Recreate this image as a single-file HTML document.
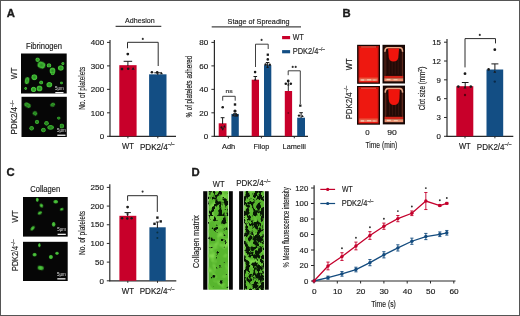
<!DOCTYPE html>
<html><head><meta charset="utf-8"><style>
html,body{margin:0;padding:0;background:#fff;}
body{width:520px;height:316px;overflow:hidden;}
svg{display:block;font-family:"Liberation Sans",sans-serif;will-change:transform;filter:blur(0.25px);}
text{stroke:#1a1a1a;stroke-width:0.15px;}
text[fill="#e0e0e0"]{stroke:#d8d8d8;stroke-width:0;}
</style></head><body>
<svg width="520" height="316" viewBox="0 0 520 316">
<rect x="0" y="0" width="520" height="316" fill="#fff"/>
<text x="6.8" y="16.6" font-size="11.3" font-weight="bold" fill="#1a1a1a" stroke="#1a1a1a" style="stroke-width:0.35px">A</text>
<text x="342.4" y="16.6" font-size="11.3" font-weight="bold" fill="#1a1a1a" stroke="#1a1a1a" style="stroke-width:0.35px">B</text>
<text x="6.5" y="176.2" font-size="11.3" font-weight="bold" fill="#1a1a1a" stroke="#1a1a1a" style="stroke-width:0.35px">C</text>
<text x="191.6" y="176.3" font-size="11.3" font-weight="bold" fill="#1a1a1a" stroke="#1a1a1a" style="stroke-width:0.35px">D</text>
<defs><radialGradient id="cg" cx="0.5" cy="0.5" r="0.5"><stop offset="0" stop-color="#2a8a22"/><stop offset="0.6" stop-color="#3aae30"/><stop offset="0.85" stop-color="#48c43a"/><stop offset="1" stop-color="#2a7a22"/></radialGradient><radialGradient id="cg2" cx="0.5" cy="0.5" r="0.5"><stop offset="0" stop-color="#58cc46"/><stop offset="0.7" stop-color="#3aa82e"/><stop offset="1" stop-color="#1a5014"/></radialGradient><radialGradient id="cg3" cx="0.5" cy="0.5" r="0.5"><stop offset="0" stop-color="#24781c"/><stop offset="0.6" stop-color="#2e9626"/><stop offset="0.85" stop-color="#3aae30"/><stop offset="1" stop-color="#1e6418"/></radialGradient><filter id="bl" x="-20%" y="-20%" width="140%" height="140%"><feGaussianBlur stdDeviation="0.35"/></filter></defs>
<text x="26" y="48.5" font-size="8.18" fill="#1a1a1a" stroke="#1a1a1a" textLength="36" lengthAdjust="spacingAndGlyphs">Fibrinogen</text>
<rect x="21" y="53.5" width="45.7" height="40" fill="#060606"/>
<rect x="21.5" y="96.8" width="45.3" height="40.2" fill="#060606"/>
<ellipse cx="37.6" cy="59.7" rx="2.3" ry="2.3" transform="rotate(0 37.6 59.7)" fill="url(#cg)" filter="url(#bl)"/>
<ellipse cx="41.4" cy="65.1" rx="4.1" ry="3.5" transform="rotate(20 41.4 65.1)" fill="url(#cg)" filter="url(#bl)"/>
<ellipse cx="49" cy="65.4" rx="2.3" ry="2.2" transform="rotate(0 49 65.4)" fill="url(#cg)" filter="url(#bl)"/>
<ellipse cx="52.5" cy="70.8" rx="3" ry="3.4" transform="rotate(0 52.5 70.8)" fill="url(#cg)" filter="url(#bl)"/>
<ellipse cx="60.8" cy="68" rx="3" ry="2.8" transform="rotate(0 60.8 68)" fill="url(#cg)" filter="url(#bl)"/>
<ellipse cx="62.9" cy="63.6" rx="1.6" ry="1.6" transform="rotate(0 62.9 63.6)" fill="url(#cg)" filter="url(#bl)"/>
<ellipse cx="52.7" cy="73.5" rx="2" ry="1.8" transform="rotate(0 52.7 73.5)" fill="url(#cg)" filter="url(#bl)"/>
<ellipse cx="34.3" cy="77.2" rx="3" ry="3" transform="rotate(0 34.3 77.2)" fill="url(#cg)" filter="url(#bl)"/>
<ellipse cx="27.1" cy="80.6" rx="2.3" ry="3.6" transform="rotate(10 27.1 80.6)" fill="url(#cg)" filter="url(#bl)"/>
<ellipse cx="41.1" cy="82.6" rx="2" ry="2" transform="rotate(0 41.1 82.6)" fill="url(#cg)" filter="url(#bl)"/>
<ellipse cx="49.3" cy="84.7" rx="3" ry="2.8" transform="rotate(0 49.3 84.7)" fill="url(#cg)" filter="url(#bl)"/>
<ellipse cx="33.6" cy="89.4" rx="2.7" ry="2.6" transform="rotate(0 33.6 89.4)" fill="url(#cg)" filter="url(#bl)"/>
<ellipse cx="39.5" cy="88.5" rx="3" ry="3" transform="rotate(0 39.5 88.5)" fill="url(#cg)" filter="url(#bl)"/>
<ellipse cx="25.7" cy="88.5" rx="1.4" ry="1.4" transform="rotate(0 25.7 88.5)" fill="url(#cg)" filter="url(#bl)"/>
<ellipse cx="61.5" cy="83" rx="1.4" ry="1.4" transform="rotate(0 61.5 83)" fill="url(#cg)" filter="url(#bl)"/>
<ellipse cx="27.5" cy="105.2" rx="3.5" ry="2.4" transform="rotate(30 27.5 105.2)" fill="url(#cg3)" filter="url(#bl)"/>
<ellipse cx="52.7" cy="104.8" rx="2.5" ry="2" transform="rotate(-30 52.7 104.8)" fill="url(#cg3)" filter="url(#bl)"/>
<ellipse cx="35" cy="113.4" rx="2.5" ry="2.2" transform="rotate(30 35 113.4)" fill="url(#cg3)" filter="url(#bl)"/>
<ellipse cx="58.8" cy="118.1" rx="1.8" ry="1.6" transform="rotate(0 58.8 118.1)" fill="url(#cg3)" filter="url(#bl)"/>
<ellipse cx="37" cy="121.9" rx="2.2" ry="2.2" transform="rotate(0 37 121.9)" fill="url(#cg3)" filter="url(#bl)"/>
<ellipse cx="46.5" cy="123.3" rx="2.4" ry="2.4" transform="rotate(0 46.5 123.3)" fill="url(#cg3)" filter="url(#bl)"/>
<ellipse cx="50.6" cy="127.4" rx="3.4" ry="2.4" transform="rotate(0 50.6 127.4)" fill="url(#cg3)" filter="url(#bl)"/>
<ellipse cx="61.9" cy="126" rx="2.3" ry="2.6" transform="rotate(0 61.9 126)" fill="url(#cg3)" filter="url(#bl)"/>
<ellipse cx="31.6" cy="128.3" rx="2.4" ry="2.4" transform="rotate(0 31.6 128.3)" fill="url(#cg3)" filter="url(#bl)"/>
<ellipse cx="43.4" cy="130.1" rx="2.5" ry="2.3" transform="rotate(0 43.4 130.1)" fill="url(#cg3)" filter="url(#bl)"/>
<text x="55" y="89.6" font-size="5.8" fill="#e0e0e0" textLength="8.8" lengthAdjust="spacingAndGlyphs">5μm</text>
<rect x="55.3" y="92.0" width="8.2" height="1.3" fill="#f0f0f0"/>
<text x="57" y="132.2" font-size="5.8" fill="#e0e0e0" textLength="8.8" lengthAdjust="spacingAndGlyphs">5μm</text>
<rect x="57.3" y="134.6" width="8.2" height="1.3" fill="#f0f0f0"/>
<text x="16.6" y="79.2" font-size="8.4" fill="#1a1a1a" stroke="#1a1a1a" textLength="11.6" lengthAdjust="spacingAndGlyphs" transform="rotate(-90 16.6 79.2)">WT</text>
<text x="17.0" y="134.4" font-size="8.4" fill="#1a1a1a" transform="rotate(-90 17.0 134.4)"><tspan textLength="27.4" lengthAdjust="spacingAndGlyphs">PDK2/4</tspan><tspan font-size="4.6" dy="-3.3" fill="#444" textLength="6.8" lengthAdjust="spacingAndGlyphs">–/–</tspan></text>
<text x="125.1" y="23.0" font-size="7.73" fill="#1a1a1a" stroke="#1a1a1a" textLength="29.6" lengthAdjust="spacingAndGlyphs">Adhesion</text>
<line x1="115.6" y1="26.3" x2="161.3" y2="26.3" stroke="#444" stroke-width="1.3"/>
<line x1="110" y1="40" x2="110" y2="136.8" stroke="#2a2a2a" stroke-width="1.2"/>
<line x1="107" y1="136.3" x2="110" y2="136.3" stroke="#2a2a2a" stroke-width="1.0"/>
<text x="104.2" y="139.0" font-size="7.78" text-anchor="end" fill="#1a1a1a" stroke="#1a1a1a" textLength="4.45" lengthAdjust="spacingAndGlyphs">0</text>
<line x1="107" y1="112.82500000000002" x2="110" y2="112.82500000000002" stroke="#2a2a2a" stroke-width="1.0"/>
<text x="104.2" y="115.52500000000002" font-size="7.78" text-anchor="end" fill="#1a1a1a" stroke="#1a1a1a" textLength="13.350000000000001" lengthAdjust="spacingAndGlyphs">100</text>
<line x1="107" y1="89.35000000000001" x2="110" y2="89.35000000000001" stroke="#2a2a2a" stroke-width="1.0"/>
<text x="104.2" y="92.05000000000001" font-size="7.78" text-anchor="end" fill="#1a1a1a" stroke="#1a1a1a" textLength="13.350000000000001" lengthAdjust="spacingAndGlyphs">200</text>
<line x1="107" y1="65.875" x2="110" y2="65.875" stroke="#2a2a2a" stroke-width="1.0"/>
<text x="104.2" y="68.575" font-size="7.78" text-anchor="end" fill="#1a1a1a" stroke="#1a1a1a" textLength="13.350000000000001" lengthAdjust="spacingAndGlyphs">300</text>
<line x1="107" y1="42.400000000000006" x2="110" y2="42.400000000000006" stroke="#2a2a2a" stroke-width="1.0"/>
<text x="104.2" y="45.10000000000001" font-size="7.78" text-anchor="end" fill="#1a1a1a" stroke="#1a1a1a" textLength="13.350000000000001" lengthAdjust="spacingAndGlyphs">400</text>
<line x1="109.4" y1="136.3" x2="176" y2="136.3" stroke="#2a2a2a" stroke-width="1.2"/>
<rect x="119.3" y="65.17075000000001" width="17.3" height="71.12925" fill="#c8002a"/>
<rect x="149.1" y="74.32600000000001" width="17.4" height="61.974000000000004" fill="#134e84"/>
<line x1="127.9" y1="136.3" x2="127.9" y2="138.3" stroke="#2a2a2a" stroke-width="1.0"/>
<line x1="157.8" y1="136.3" x2="157.8" y2="138.3" stroke="#2a2a2a" stroke-width="1.0"/>
<line x1="127.9" y1="61.3" x2="127.9" y2="66" stroke="#1a1a1a" stroke-width="1"/>
<line x1="123.65" y1="61.3" x2="132.15" y2="61.3" stroke="#1a1a1a" stroke-width="1"/>
<line x1="157.8" y1="72.8" x2="157.8" y2="75" stroke="#1a1a1a" stroke-width="1"/>
<line x1="154.3" y1="72.8" x2="161.3" y2="72.8" stroke="#1a1a1a" stroke-width="1"/>
<circle cx="127.8" cy="54.1" r="1.4" fill="#1a1a1a"/>
<rect x="120.80" y="67.80" width="2.4" height="2.4" fill="#1a1a1a"/>
<circle cx="128.2" cy="68.7" r="1.3" fill="#1a1a1a"/>
<path d="M133.10 66.96L134.64 69.76L131.56 69.76Z" fill="#1a1a1a"/>
<circle cx="151.9" cy="72.2" r="1.3" fill="#1a1a1a"/>
<circle cx="157.2" cy="72.4" r="1.3" fill="#1a1a1a"/>
<path d="M161.50 71.77L162.93 74.37L160.07 74.37Z" fill="#1a1a1a"/>
<path d="M127.5 48.3 V42.3 H158.2 V66" fill="none" stroke="#2a2a2a" stroke-width="1.0"/>
<circle cx="142.80" cy="38.90" r="1.05" fill="#333"/>
<text x="127.9" y="149.4" font-size="8.18" text-anchor="middle" fill="#1a1a1a" stroke="#1a1a1a" textLength="12" lengthAdjust="spacingAndGlyphs">WT</text>
<text x="139.9" y="149.5" font-size="8.18" fill="#1a1a1a"><tspan textLength="27.9" lengthAdjust="spacingAndGlyphs">PDK2/4</tspan><tspan font-size="4.6" dy="-3.3" fill="#444" textLength="6.8" lengthAdjust="spacingAndGlyphs">–/–</tspan></text>
<text x="84.6" y="109.7" font-size="8.74" fill="#1a1a1a" stroke="#1a1a1a" textLength="43" lengthAdjust="spacingAndGlyphs" transform="rotate(-90 84.6 109.7)">No. of platelets</text>
<text x="227.6" y="24.0" font-size="7.73" fill="#1a1a1a" stroke="#1a1a1a" textLength="62" lengthAdjust="spacingAndGlyphs">Stage of Spreading</text>
<line x1="211.7" y1="26.8" x2="301" y2="26.8" stroke="#444" stroke-width="1.3"/>
<line x1="214.4" y1="40" x2="214.4" y2="136.8" stroke="#2a2a2a" stroke-width="1.2"/>
<line x1="211.4" y1="136.3" x2="214.4" y2="136.3" stroke="#2a2a2a" stroke-width="1.0"/>
<text x="208.2" y="139.0" font-size="7.78" text-anchor="end" fill="#1a1a1a" stroke="#1a1a1a" textLength="4.5" lengthAdjust="spacingAndGlyphs">0</text>
<line x1="211.4" y1="112.82500000000002" x2="214.4" y2="112.82500000000002" stroke="#2a2a2a" stroke-width="1.0"/>
<text x="208.2" y="115.52500000000002" font-size="7.78" text-anchor="end" fill="#1a1a1a" stroke="#1a1a1a" textLength="9.0" lengthAdjust="spacingAndGlyphs">20</text>
<line x1="211.4" y1="89.35000000000001" x2="214.4" y2="89.35000000000001" stroke="#2a2a2a" stroke-width="1.0"/>
<text x="208.2" y="92.05000000000001" font-size="7.78" text-anchor="end" fill="#1a1a1a" stroke="#1a1a1a" textLength="9.0" lengthAdjust="spacingAndGlyphs">40</text>
<line x1="211.4" y1="65.875" x2="214.4" y2="65.875" stroke="#2a2a2a" stroke-width="1.0"/>
<text x="208.2" y="68.575" font-size="7.78" text-anchor="end" fill="#1a1a1a" stroke="#1a1a1a" textLength="9.0" lengthAdjust="spacingAndGlyphs">60</text>
<line x1="211.4" y1="42.400000000000006" x2="214.4" y2="42.400000000000006" stroke="#2a2a2a" stroke-width="1.0"/>
<text x="208.2" y="45.10000000000001" font-size="7.78" text-anchor="end" fill="#1a1a1a" stroke="#1a1a1a" textLength="9.0" lengthAdjust="spacingAndGlyphs">80</text>
<line x1="213.8" y1="136.3" x2="308" y2="136.3" stroke="#2a2a2a" stroke-width="1.2"/>
<rect x="218.7" y="123.3" width="7.8" height="13.000000000000014" fill="#c8002a"/>
<rect x="231.4" y="113.9" width="7.4" height="22.400000000000006" fill="#134e84"/>
<rect x="251.7" y="79.7" width="7.3" height="56.60000000000001" fill="#c8002a"/>
<rect x="264" y="65.1" width="7.3" height="71.20000000000002" fill="#134e84"/>
<rect x="284.8" y="91" width="7.3" height="45.30000000000001" fill="#c8002a"/>
<rect x="297.2" y="117.7" width="7.8" height="18.60000000000001" fill="#134e84"/>
<line x1="228.4" y1="136.3" x2="228.4" y2="138.3" stroke="#2a2a2a" stroke-width="1.0"/>
<line x1="261.4" y1="136.3" x2="261.4" y2="138.3" stroke="#2a2a2a" stroke-width="1.0"/>
<line x1="294.3" y1="136.3" x2="294.3" y2="138.3" stroke="#2a2a2a" stroke-width="1.0"/>
<text x="228.6" y="149.4" font-size="7.95" text-anchor="middle" fill="#1a1a1a" stroke="#1a1a1a" textLength="13.2" lengthAdjust="spacingAndGlyphs">Adh</text>
<text x="261.4" y="149.4" font-size="7.95" text-anchor="middle" fill="#1a1a1a" stroke="#1a1a1a" textLength="15.8" lengthAdjust="spacingAndGlyphs">Filop</text>
<text x="294.2" y="149.4" font-size="7.95" text-anchor="middle" fill="#1a1a1a" stroke="#1a1a1a" textLength="23.2" lengthAdjust="spacingAndGlyphs">Lamelli</text>
<line x1="222.6" y1="117.7" x2="222.6" y2="124" stroke="#1a1a1a" stroke-width="1"/>
<line x1="220.7" y1="117.7" x2="224.5" y2="117.7" stroke="#1a1a1a" stroke-width="1"/>
<circle cx="222.7" cy="107.3" r="1.3" fill="#1a1a1a"/>
<circle cx="221.5" cy="127.4" r="1.1" fill="#1a1a1a"/>
<path d="M224.40 125.08L225.72 127.48L223.08 127.48Z" fill="#1a1a1a"/>
<path d="M222.80 130.72L224.12 128.32L221.48 128.32Z" fill="#1a1a1a"/>
<line x1="235.1" y1="113.7" x2="235.1" y2="117" stroke="#1a1a1a" stroke-width="1"/>
<line x1="233.2" y1="113.7" x2="237.0" y2="113.7" stroke="#1a1a1a" stroke-width="1"/>
<rect x="233.80" y="103.30" width="2.4" height="2.4" fill="#1a1a1a"/>
<circle cx="235" cy="111.1" r="1.6" fill="#1a1a1a"/>
<path d="M233.20 113.57L234.63 116.17L231.77 116.17Z" fill="#1a1a1a"/>
<circle cx="237.0" cy="115.4" r="1.3" fill="#1a1a1a"/>
<path d="M222.7 100.7 V96.3 H235.2 V100.7" fill="none" stroke="#2a2a2a" stroke-width="0.9"/>
<text x="229.1" y="92.6" font-size="6.05" text-anchor="middle" fill="#333" stroke="#333" textLength="7.2" lengthAdjust="spacingAndGlyphs">ns</text>
<line x1="255.3" y1="76.5" x2="255.3" y2="80" stroke="#1a1a1a" stroke-width="1"/>
<line x1="253.5" y1="76.5" x2="257.1" y2="76.5" stroke="#1a1a1a" stroke-width="1"/>
<circle cx="255.1" cy="72.1" r="1.3" fill="#1a1a1a"/>
<path d="M255.30 78.18L256.62 80.58L253.98 80.58Z" fill="#1a1a1a"/>
<line x1="267.6" y1="62.5" x2="267.6" y2="66" stroke="#1a1a1a" stroke-width="1"/>
<line x1="265.8" y1="62.5" x2="269.40000000000003" y2="62.5" stroke="#1a1a1a" stroke-width="1"/>
<rect x="266.65" y="53.55" width="2.3" height="2.3" fill="#1a1a1a"/>
<circle cx="267.8" cy="59.4" r="1.3" fill="#1a1a1a"/>
<circle cx="265.6" cy="64.5" r="1.2" fill="#1a1a1a"/>
<circle cx="269.8" cy="64.8" r="1.2" fill="#1a1a1a"/>
<path d="M267.60 65.48L268.92 67.88L266.28 67.88Z" fill="#1a1a1a"/>
<path d="M255.5 67 V44.2 H268.2 V49" fill="none" stroke="#2a2a2a" stroke-width="0.9"/>
<circle cx="261.60" cy="39.90" r="1.05" fill="#333"/>
<line x1="288.3" y1="80.9" x2="288.3" y2="91" stroke="#2a2a2a" stroke-width="1.0"/>
<circle cx="288.2" cy="80.9" r="1.4" fill="#1a1a1a"/>
<circle cx="285.8" cy="83.7" r="1.3" fill="#1a1a1a"/>
<circle cx="290.8" cy="83.7" r="1.3" fill="#1a1a1a"/>
<path d="M288.30 83.29L289.51 85.49L287.09 85.49Z" fill="#1a1a1a"/>
<circle cx="288.3" cy="113" r="0.9" fill="#7a0015"/>
<line x1="301.1" y1="112.7" x2="301.1" y2="118" stroke="#1a1a1a" stroke-width="1"/>
<line x1="299.3" y1="112.7" x2="302.90000000000003" y2="112.7" stroke="#1a1a1a" stroke-width="1"/>
<rect x="299.15" y="104.45" width="2.3" height="2.3" fill="#1a1a1a"/>
<circle cx="299" cy="115.6" r="1.2" fill="#1a1a1a"/>
<path d="M302.50 114.73L303.76 117.03L301.24 117.03Z" fill="#1a1a1a"/>
<path d="M288.2 75.2 V70.8 H300.3 V104" fill="none" stroke="#2a2a2a" stroke-width="0.9"/>
<circle cx="292.70" cy="66.90" r="1.05" fill="#333"/>
<circle cx="295.70" cy="66.90" r="1.05" fill="#333"/>
<text x="192.2" y="117.5" font-size="8.74" fill="#1a1a1a" stroke="#1a1a1a" textLength="61.7" lengthAdjust="spacingAndGlyphs" transform="rotate(-90 192.2 117.5)">% of platelets adhered</text>
<rect x="282.1" y="36.0" width="8" height="3.2" fill="#c8002a"/>
<text x="292.8" y="40.0" font-size="8.51" fill="#1a1a1a" stroke="#1a1a1a" textLength="11" lengthAdjust="spacingAndGlyphs">WT</text>
<rect x="282.1" y="50.1" width="8" height="3.2" fill="#134e84"/>
<text x="292.8" y="54.2" font-size="8.51" fill="#1a1a1a"><tspan textLength="25.6" lengthAdjust="spacingAndGlyphs">PDK2/4</tspan><tspan font-size="4.6" dy="-3.3" fill="#444" textLength="6.5" lengthAdjust="spacingAndGlyphs">–/–</tspan></text>
<rect x="357.1" y="44.8" width="22.9" height="39" fill="#160604"/>
<rect x="358.70000000000005" y="46.099999999999994" width="19.7" height="36.4" fill="#ee1810"/>
<rect x="358.70000000000005" y="46.099999999999994" width="19.7" height="1.6" fill="#b81a10"/>
<rect x="361.1" y="46.599999999999994" width="14.899999999999999" height="0.8" fill="#e07060"/>
<rect x="358.70000000000005" y="46.099999999999994" width="0.9" height="36.4" fill="#c01410"/>
<rect x="377.5" y="46.099999999999994" width="0.9" height="36.4" fill="#c01410"/>
<rect x="359.3" y="77.6" width="18.5" height="1.3" fill="#e85a40"/>
<rect x="359.5" y="78.89999999999999" width="18.099999999999998" height="2.2" fill="#e88068"/>
<rect x="361.1" y="79.39999999999999" width="3" height="1.2" fill="#f8c8b0"/>
<rect x="367.1" y="79.2" width="4" height="1.2" fill="#f8c0a8"/>
<rect x="373.1" y="79.5" width="2.5" height="1.1" fill="#f0b098"/>
<rect x="382.5" y="44.8" width="22.5" height="38.7" fill="#140604"/>
<rect x="384.1" y="46.0" width="19.3" height="36.300000000000004" fill="#220a06"/>
<rect x="385.7" y="52.8" width="0.8" height="21.700000000000003" fill="#3c1610"/>
<rect x="388.7" y="52.8" width="0.8" height="21.700000000000003" fill="#3c1610"/>
<rect x="391.7" y="52.8" width="0.8" height="21.700000000000003" fill="#3c1610"/>
<rect x="394.7" y="52.8" width="0.8" height="21.700000000000003" fill="#3c1610"/>
<rect x="397.7" y="52.8" width="0.8" height="21.700000000000003" fill="#3c1610"/>
<rect x="400.7" y="52.8" width="0.8" height="21.700000000000003" fill="#3c1610"/>
<rect x="384.6" y="47.8" width="0.8" height="30.700000000000003" fill="#6a3024"/>
<rect x="402.1" y="47.8" width="0.8" height="30.700000000000003" fill="#6a3024"/>
<path d="M384.9 51.8 Q385.1 47.8 387.5 47.8 H400.0 Q402.4 47.8 402.6 51.8" fill="none" stroke="#e8a888" stroke-width="1.6"/>
<path d="M388.1 48.599999999999994 H399.1 L398.3 57.3 Q397.7 61.599999999999994 393.5 61.599999999999994 Q389.3 61.599999999999994 388.8 57.3 Z" fill="#f0140c"/>
<rect x="384.3" y="75.9" width="18.9" height="2.4" fill="#d02418"/>
<rect x="384.3" y="78.3" width="18.9" height="3.0" fill="#e89070"/>
<rect x="386.5" y="78.9" width="4" height="1.3" fill="#f8d0b8"/>
<rect x="393.5" y="79.1" width="4" height="1.2" fill="#f8c8a8"/>
<rect x="357" y="86" width="23" height="38.7" fill="#160604"/>
<rect x="358.6" y="87.3" width="19.8" height="36.1" fill="#ee1810"/>
<rect x="358.6" y="87.3" width="19.8" height="1.6" fill="#b81a10"/>
<rect x="361" y="87.8" width="15" height="0.8" fill="#e07060"/>
<rect x="358.6" y="87.3" width="0.9" height="36.1" fill="#c01410"/>
<rect x="377.5" y="87.3" width="0.9" height="36.1" fill="#c01410"/>
<rect x="359.2" y="118.5" width="18.6" height="1.3" fill="#e85a40"/>
<rect x="359.4" y="119.8" width="18.2" height="2.2" fill="#e88068"/>
<rect x="361" y="120.3" width="3" height="1.2" fill="#f8c8b0"/>
<rect x="367" y="120.10000000000001" width="4" height="1.2" fill="#f8c0a8"/>
<rect x="373" y="120.4" width="2.5" height="1.1" fill="#f0b098"/>
<rect x="382.8" y="85.6" width="22.2" height="38.8" fill="#140604"/>
<rect x="384.40000000000003" y="86.8" width="19.0" height="36.4" fill="#220a06"/>
<rect x="386.0" y="93.6" width="0.8" height="21.799999999999997" fill="#3c1610"/>
<rect x="389.0" y="93.6" width="0.8" height="21.799999999999997" fill="#3c1610"/>
<rect x="392.0" y="93.6" width="0.8" height="21.799999999999997" fill="#3c1610"/>
<rect x="395.0" y="93.6" width="0.8" height="21.799999999999997" fill="#3c1610"/>
<rect x="398.0" y="93.6" width="0.8" height="21.799999999999997" fill="#3c1610"/>
<rect x="401.0" y="93.6" width="0.8" height="21.799999999999997" fill="#3c1610"/>
<rect x="384.90000000000003" y="88.6" width="0.8" height="30.799999999999997" fill="#6a3024"/>
<rect x="402.1" y="88.6" width="0.8" height="30.799999999999997" fill="#6a3024"/>
<path d="M385.2 92.6 Q385.40000000000003 88.6 387.8 88.6 H400.0 Q402.4 88.6 402.6 92.6" fill="none" stroke="#e8a888" stroke-width="1.6"/>
<path d="M388.3 89.19999999999999 H399.8 L399.40000000000003 99.1 Q398.8 105.1 394.0 105.1 Q389.2 105.1 388.7 99.1 Z" fill="#f0140c"/>
<rect x="384.6" y="116.8" width="18.599999999999998" height="2.4" fill="#d02418"/>
<rect x="384.6" y="119.19999999999999" width="18.599999999999998" height="3.0" fill="#e89070"/>
<rect x="386.8" y="119.8" width="4" height="1.3" fill="#f8d0b8"/>
<rect x="393.8" y="119.99999999999999" width="4" height="1.2" fill="#f8c8a8"/>
<text x="352.0" y="70.2" font-size="8.4" fill="#1a1a1a" stroke="#1a1a1a" textLength="11.8" lengthAdjust="spacingAndGlyphs" transform="rotate(-90 352.0 70.2)">WT</text>
<text x="351.7" y="119.3" font-size="8.4" fill="#1a1a1a" transform="rotate(-90 351.7 119.3)"><tspan textLength="26.8" lengthAdjust="spacingAndGlyphs">PDK2/4</tspan><tspan font-size="4.6" dy="-3.3" fill="#444" textLength="6.8" lengthAdjust="spacingAndGlyphs">–/–</tspan></text>
<text x="367.4" y="134.9" font-size="8.06" text-anchor="middle" fill="#1a1a1a" stroke="#1a1a1a" textLength="4.4" lengthAdjust="spacingAndGlyphs">0</text>
<text x="392.1" y="134.9" font-size="8.06" text-anchor="middle" fill="#1a1a1a" stroke="#1a1a1a" textLength="9.6" lengthAdjust="spacingAndGlyphs">90</text>
<text x="365.4" y="147.7" font-size="9.41" fill="#1a1a1a" stroke="#1a1a1a" textLength="31.8" lengthAdjust="spacingAndGlyphs">Time (min)</text>
<line x1="447" y1="39" x2="447" y2="136.8" stroke="#2a2a2a" stroke-width="1.2"/>
<line x1="444" y1="136.3" x2="447" y2="136.3" stroke="#2a2a2a" stroke-width="1.0"/>
<text x="441" y="139.0" font-size="7.78" text-anchor="end" fill="#1a1a1a" stroke="#1a1a1a" textLength="4.4" lengthAdjust="spacingAndGlyphs">0</text>
<line x1="444" y1="117.48" x2="447" y2="117.48" stroke="#2a2a2a" stroke-width="1.0"/>
<text x="441" y="120.18" font-size="7.78" text-anchor="end" fill="#1a1a1a" stroke="#1a1a1a" textLength="4.4" lengthAdjust="spacingAndGlyphs">3</text>
<line x1="444" y1="98.66" x2="447" y2="98.66" stroke="#2a2a2a" stroke-width="1.0"/>
<text x="441" y="101.36" font-size="7.78" text-anchor="end" fill="#1a1a1a" stroke="#1a1a1a" textLength="4.4" lengthAdjust="spacingAndGlyphs">6</text>
<line x1="444" y1="79.84" x2="447" y2="79.84" stroke="#2a2a2a" stroke-width="1.0"/>
<text x="441" y="82.54" font-size="7.78" text-anchor="end" fill="#1a1a1a" stroke="#1a1a1a" textLength="4.4" lengthAdjust="spacingAndGlyphs">9</text>
<line x1="444" y1="61.019999999999996" x2="447" y2="61.019999999999996" stroke="#2a2a2a" stroke-width="1.0"/>
<text x="441" y="63.72" font-size="7.78" text-anchor="end" fill="#1a1a1a" stroke="#1a1a1a" textLength="8.8" lengthAdjust="spacingAndGlyphs">12</text>
<line x1="444" y1="42.2" x2="447" y2="42.2" stroke="#2a2a2a" stroke-width="1.0"/>
<text x="441" y="44.900000000000006" font-size="7.78" text-anchor="end" fill="#1a1a1a" stroke="#1a1a1a" textLength="8.8" lengthAdjust="spacingAndGlyphs">15</text>
<line x1="446.4" y1="136.3" x2="513.3" y2="136.3" stroke="#2a2a2a" stroke-width="1.2"/>
<rect x="456.3" y="86.2" width="17" height="50.10000000000001" fill="#c8002a"/>
<rect x="486.5" y="69.5" width="16.7" height="66.80000000000001" fill="#134e84"/>
<line x1="465" y1="136.3" x2="465" y2="138.3" stroke="#2a2a2a" stroke-width="1.0"/>
<line x1="494.9" y1="136.3" x2="494.9" y2="138.3" stroke="#2a2a2a" stroke-width="1.0"/>
<line x1="465.2" y1="82.5" x2="465.2" y2="87" stroke="#1a1a1a" stroke-width="1"/>
<line x1="461.84999999999997" y1="82.5" x2="468.55" y2="82.5" stroke="#1a1a1a" stroke-width="1"/>
<line x1="494.9" y1="63.9" x2="494.9" y2="70" stroke="#1a1a1a" stroke-width="1"/>
<line x1="491.4" y1="63.9" x2="498.4" y2="63.9" stroke="#1a1a1a" stroke-width="1"/>
<circle cx="465" cy="73.7" r="1.4" fill="#1a1a1a"/>
<circle cx="458.3" cy="86.6" r="1.3" fill="#1a1a1a"/>
<path d="M465.00 85.87L466.43 88.47L463.57 88.47Z" fill="#1a1a1a"/>
<circle cx="470.8" cy="86.6" r="1.3" fill="#1a1a1a"/>
<circle cx="465" cy="95" r="1.2" fill="#5a0010"/>
<circle cx="494.8" cy="49.7" r="1.4" fill="#1a1a1a"/>
<circle cx="488.6" cy="69.4" r="1.3" fill="#1a1a1a"/>
<path d="M494.80 70.17L496.23 72.77L493.37 72.77Z" fill="#1a1a1a"/>
<circle cx="494.8" cy="81.6" r="1.2" fill="#0a2a4a"/>
<path d="M465 67.4 V38.6 H495.5 V43.4" fill="none" stroke="#2a2a2a" stroke-width="1.0"/>
<circle cx="479.80" cy="34.90" r="1.05" fill="#333"/>
<text x="464.8" y="149.4" font-size="8.18" text-anchor="middle" fill="#1a1a1a" stroke="#1a1a1a" textLength="11.8" lengthAdjust="spacingAndGlyphs">WT</text>
<text x="476.8" y="149.5" font-size="8.18" fill="#1a1a1a"><tspan textLength="27.8" lengthAdjust="spacingAndGlyphs">PDK2/4</tspan><tspan font-size="4.6" dy="-3.3" fill="#444" textLength="6.8" lengthAdjust="spacingAndGlyphs">–/–</tspan></text>
<text x="425.5" y="110.3" font-size="9.3" fill="#1a1a1a" transform="rotate(-90 425.5 110.3)"><tspan textLength="38.6" lengthAdjust="spacingAndGlyphs">Clot size (mm</tspan><tspan font-size="5" dy="-3.4">2</tspan><tspan dy="3.4" textLength="2.6" lengthAdjust="spacingAndGlyphs">)</tspan></text>
<text x="30.3" y="192.4" font-size="8.18" fill="#1a1a1a" stroke="#1a1a1a" textLength="29.8" lengthAdjust="spacingAndGlyphs">Collagen</text>
<rect x="23" y="197" width="44.7" height="39.6" fill="#060606"/>
<rect x="23" y="241.8" width="44.7" height="39.2" fill="#060606"/>
<ellipse cx="37.3" cy="199.8" rx="1.6" ry="2.2" transform="rotate(0 37.3 199.8)" fill="url(#cg2)" filter="url(#bl)"/>
<ellipse cx="55.7" cy="201.8" rx="2.6" ry="2" transform="rotate(0 55.7 201.8)" fill="url(#cg2)" filter="url(#bl)"/>
<ellipse cx="41.4" cy="205.6" rx="1.8" ry="2.3" transform="rotate(-30 41.4 205.6)" fill="url(#cg2)" filter="url(#bl)"/>
<ellipse cx="61.8" cy="209.3" rx="2" ry="1.5" transform="rotate(-20 61.8 209.3)" fill="url(#cg2)" filter="url(#bl)"/>
<ellipse cx="39.8" cy="213" rx="2.5" ry="1.8" transform="rotate(-30 39.8 213)" fill="url(#cg2)" filter="url(#bl)"/>
<ellipse cx="53.7" cy="224.3" rx="2" ry="2.6" transform="rotate(0 53.7 224.3)" fill="url(#cg2)" filter="url(#bl)"/>
<ellipse cx="32.6" cy="228.3" rx="1.6" ry="3" transform="rotate(40 32.6 228.3)" fill="url(#cg2)" filter="url(#bl)"/>
<ellipse cx="39.4" cy="245.2" rx="1.4" ry="2.2" transform="rotate(0 39.4 245.2)" fill="url(#cg2)" filter="url(#bl)"/>
<ellipse cx="34.6" cy="254.7" rx="2.3" ry="2" transform="rotate(0 34.6 254.7)" fill="url(#cg2)" filter="url(#bl)"/>
<ellipse cx="57" cy="253.3" rx="2" ry="1.7" transform="rotate(0 57 253.3)" fill="url(#cg2)" filter="url(#bl)"/>
<ellipse cx="50.9" cy="257" rx="2.2" ry="2.2" transform="rotate(0 50.9 257)" fill="url(#cg2)" filter="url(#bl)"/>
<ellipse cx="40.7" cy="267.9" rx="3.4" ry="2.4" transform="rotate(10 40.7 267.9)" fill="url(#cg2)" filter="url(#bl)"/>
<text x="57.3" y="231.3" font-size="5.8" fill="#e0e0e0" textLength="8.8" lengthAdjust="spacingAndGlyphs">5μm</text>
<rect x="57.599999999999994" y="233.70000000000002" width="8.2" height="1.3" fill="#f0f0f0"/>
<text x="57" y="275.8" font-size="5.8" fill="#e0e0e0" textLength="8.8" lengthAdjust="spacingAndGlyphs">5μm</text>
<rect x="57.3" y="278.2" width="8.2" height="1.3" fill="#f0f0f0"/>
<text x="18.0" y="222.8" font-size="8.4" fill="#1a1a1a" stroke="#1a1a1a" textLength="12.3" lengthAdjust="spacingAndGlyphs" transform="rotate(-90 18.0 222.8)">WT</text>
<text x="18.3" y="270.9" font-size="8.4" fill="#1a1a1a" transform="rotate(-90 18.3 270.9)"><tspan textLength="24.8" lengthAdjust="spacingAndGlyphs">PDK2/4</tspan><tspan font-size="4.6" dy="-3.3" fill="#444" textLength="6.8" lengthAdjust="spacingAndGlyphs">–/–</tspan></text>
<line x1="109.8" y1="184.3" x2="109.8" y2="281.3" stroke="#2a2a2a" stroke-width="1.2"/>
<line x1="106.8" y1="280.8" x2="109.8" y2="280.8" stroke="#2a2a2a" stroke-width="1.0"/>
<text x="103.9" y="283.5" font-size="7.78" text-anchor="end" fill="#1a1a1a" stroke="#1a1a1a" textLength="4.45" lengthAdjust="spacingAndGlyphs">0</text>
<line x1="106.8" y1="262.12" x2="109.8" y2="262.12" stroke="#2a2a2a" stroke-width="1.0"/>
<text x="103.9" y="264.82" font-size="7.78" text-anchor="end" fill="#1a1a1a" stroke="#1a1a1a" textLength="8.9" lengthAdjust="spacingAndGlyphs">50</text>
<line x1="106.8" y1="243.44" x2="109.8" y2="243.44" stroke="#2a2a2a" stroke-width="1.0"/>
<text x="103.9" y="246.14" font-size="7.78" text-anchor="end" fill="#1a1a1a" stroke="#1a1a1a" textLength="13.350000000000001" lengthAdjust="spacingAndGlyphs">100</text>
<line x1="106.8" y1="224.76" x2="109.8" y2="224.76" stroke="#2a2a2a" stroke-width="1.0"/>
<text x="103.9" y="227.45999999999998" font-size="7.78" text-anchor="end" fill="#1a1a1a" stroke="#1a1a1a" textLength="13.350000000000001" lengthAdjust="spacingAndGlyphs">150</text>
<line x1="106.8" y1="206.07999999999998" x2="109.8" y2="206.07999999999998" stroke="#2a2a2a" stroke-width="1.0"/>
<text x="103.9" y="208.77999999999997" font-size="7.78" text-anchor="end" fill="#1a1a1a" stroke="#1a1a1a" textLength="13.350000000000001" lengthAdjust="spacingAndGlyphs">200</text>
<line x1="106.8" y1="187.4" x2="109.8" y2="187.4" stroke="#2a2a2a" stroke-width="1.0"/>
<text x="103.9" y="190.1" font-size="7.78" text-anchor="end" fill="#1a1a1a" stroke="#1a1a1a" textLength="13.350000000000001" lengthAdjust="spacingAndGlyphs">250</text>
<line x1="109.2" y1="280.8" x2="176.3" y2="280.8" stroke="#2a2a2a" stroke-width="1.2"/>
<rect x="119.4" y="215.8" width="16.9" height="65.0" fill="#c8002a"/>
<rect x="149.4" y="227.3" width="16.3" height="53.5" fill="#134e84"/>
<line x1="127.8" y1="280.8" x2="127.8" y2="282.8" stroke="#2a2a2a" stroke-width="1.0"/>
<line x1="157.5" y1="280.8" x2="157.5" y2="282.8" stroke="#2a2a2a" stroke-width="1.0"/>
<line x1="127.7" y1="212.6" x2="127.7" y2="216" stroke="#1a1a1a" stroke-width="1"/>
<line x1="124.55" y1="212.6" x2="130.85" y2="212.6" stroke="#1a1a1a" stroke-width="1"/>
<line x1="157.4" y1="222.0" x2="157.4" y2="228" stroke="#1a1a1a" stroke-width="1"/>
<line x1="155.9" y1="222.0" x2="158.9" y2="222.0" stroke="#1a1a1a" stroke-width="1"/>
<circle cx="127.6" cy="207.1" r="1.4" fill="#1a1a1a"/>
<path d="M127.50 216.03L128.93 213.43L126.07 213.43Z" fill="#1a1a1a"/>
<circle cx="122.1" cy="218.2" r="1.2" fill="#1a1a1a"/>
<circle cx="127.3" cy="218.5" r="1.2" fill="#1a1a1a"/>
<circle cx="131.6" cy="218.2" r="1.2" fill="#1a1a1a"/>
<rect x="156.20" y="216.40" width="2.4" height="2.4" fill="#1a1a1a"/>
<rect x="159.50" y="220.20" width="2.4" height="2.4" fill="#1a1a1a"/>
<rect x="153.30" y="222.60" width="2.4" height="2.4" fill="#1a1a1a"/>
<circle cx="157.4" cy="232.4" r="1.0" fill="#0a3040"/>
<circle cx="157.4" cy="238.1" r="1.0" fill="#0a3040"/>
<path d="M127.6 200.8 V195.7 H157.3 V211.9" fill="none" stroke="#2a2a2a" stroke-width="1.0"/>
<circle cx="142.60" cy="191.60" r="1.05" fill="#333"/>
<text x="127.9" y="294.2" font-size="8.18" text-anchor="middle" fill="#1a1a1a" stroke="#1a1a1a" textLength="12.3" lengthAdjust="spacingAndGlyphs">WT</text>
<text x="139.7" y="294.2" font-size="8.18" fill="#1a1a1a"><tspan textLength="27.9" lengthAdjust="spacingAndGlyphs">PDK2/4</tspan><tspan font-size="4.6" dy="-3.3" fill="#444" textLength="6.8" lengthAdjust="spacingAndGlyphs">–/–</tspan></text>
<text x="84.6" y="254.9" font-size="8.74" fill="#1a1a1a" stroke="#1a1a1a" textLength="44" lengthAdjust="spacingAndGlyphs" transform="rotate(-90 84.6 254.9)">No. of platelets</text>
<text x="212.8" y="186.6" font-size="8.96" fill="#1a1a1a" stroke="#1a1a1a" textLength="11.7" lengthAdjust="spacingAndGlyphs">WT</text>
<text x="236.2" y="186.1" font-size="8.96" fill="#1a1a1a"><tspan textLength="27.6" lengthAdjust="spacingAndGlyphs">PDK2/4</tspan><tspan font-size="4.6" dy="-3.3" fill="#444" textLength="6.5" lengthAdjust="spacingAndGlyphs">–/–</tspan></text>
<defs>
<filter id="nA1" x="0" y="0" width="1" height="1" color-interpolation-filters="sRGB"><feTurbulence type="fractalNoise" baseFrequency="0.22 0.16" numOctaves="3" seed="4"/><feColorMatrix type="matrix" values="0 0 0 0 0.03  0 0 0 0 0.09  0 0 0 0 0.02  10 0 0 0 -5.00"/></filter>
<filter id="nA2" x="0" y="0" width="1" height="1" color-interpolation-filters="sRGB"><feTurbulence type="fractalNoise" baseFrequency="0.22 0.16" numOctaves="3" seed="5"/><feColorMatrix type="matrix" values="0 0 0 0 0.03  0 0 0 0 0.09  0 0 0 0 0.02  10 0 0 0 -5.80"/></filter>
<filter id="nA3" x="0" y="0" width="1" height="1" color-interpolation-filters="sRGB"><feTurbulence type="fractalNoise" baseFrequency="0.25 0.2" numOctaves="3" seed="11"/><feColorMatrix type="matrix" values="0 0 0 0 0.03  0 0 0 0 0.09  0 0 0 0 0.02  10 0 0 0 -6.80"/></filter>
<filter id="nB" x="0" y="0" width="1" height="1" color-interpolation-filters="sRGB"><feTurbulence type="fractalNoise" baseFrequency="0.26 0.19" numOctaves="3" seed="7"/><feColorMatrix type="matrix" values="0 0 0 0 0.03  0 0 0 0 0.09  0 0 0 0 0.02  10 0 0 0 -4.60"/></filter>
<filter id="nC" x="0" y="0" width="1" height="1" color-interpolation-filters="sRGB"><feTurbulence type="fractalNoise" baseFrequency="0.3 0.2" numOctaves="3" seed="13"/><feColorMatrix type="matrix" values="0 0 0 0 0.03  0 0 0 0 0.09  0 0 0 0 0.02  10 0 0 0 -5.20"/></filter>
<filter id="nG" x="0" y="0" width="1" height="1" color-interpolation-filters="sRGB"><feTurbulence type="fractalNoise" baseFrequency="0.12" numOctaves="2" seed="2"/><feColorMatrix type="matrix" values="0 0 0 0 0.5  0 0 0 0 0.85  0 0 0 0 0.3  3 0 0 0 -1.4"/></filter>
</defs>
<rect x="203.2" y="191.2" width="4.4" height="98.5" fill="#060606"/>
<rect x="207.6" y="191.2" width="0.9" height="98.5" fill="#c8eab8"/>
<rect x="208.5" y="191.2" width="19.6" height="98.5" fill="#58b62e"/>
<rect x="208.5" y="191.2" width="19.6" height="98.5" fill="#000" filter="url(#nG)"/>
<rect x="208.5" y="191.2" width="19.6" height="24" fill="#000" filter="url(#nA1)"/>
<rect x="208.5" y="215.2" width="19.6" height="25" fill="#000" filter="url(#nA2)"/>
<rect x="208.5" y="240.2" width="19.6" height="49.5" fill="#000" filter="url(#nA3)"/>
<rect x="228.1" y="191.2" width="0.9" height="98.5" fill="#c8eab8"/>
<rect x="229.0" y="191.2" width="3.8" height="98.5" fill="#060606"/>
<rect x="239.1" y="191.2" width="4.4" height="98.5" fill="#060606"/>
<rect x="243.5" y="191.2" width="0.9" height="98.5" fill="#c8eab8"/>
<rect x="244.4" y="191.2" width="19.6" height="98.5" fill="#58b62e"/>
<rect x="244.4" y="191.2" width="19.6" height="98.5" fill="#000" filter="url(#nG)"/>
<rect x="244.4" y="191.2" width="19.6" height="98.5" fill="#000" filter="url(#nB)"/>
<rect x="255.1" y="225" width="8.9" height="64.7" fill="#000" filter="url(#nC)"/>
<rect x="264.0" y="191.2" width="0.9" height="98.5" fill="#c8eab8"/>
<rect x="264.9" y="191.2" width="3.8" height="98.5" fill="#060606"/>
<text x="199.2" y="268.2" font-size="8.74" fill="#1a1a1a" stroke="#1a1a1a" textLength="53" lengthAdjust="spacingAndGlyphs" transform="rotate(-90 199.2 268.2)">Collagen matrix</text>
<line x1="314.1" y1="185.3" x2="314.1" y2="281.5" stroke="#2a2a2a" stroke-width="1.2"/>
<line x1="311.0" y1="281.0" x2="314.1" y2="281.0" stroke="#2a2a2a" stroke-width="1.0"/>
<text x="308.3" y="283.7" font-size="7.78" text-anchor="end" fill="#1a1a1a" stroke="#1a1a1a" textLength="4.35" lengthAdjust="spacingAndGlyphs">0</text>
<line x1="311.0" y1="265.5" x2="314.1" y2="265.5" stroke="#2a2a2a" stroke-width="1.0"/>
<text x="308.3" y="268.2" font-size="7.78" text-anchor="end" fill="#1a1a1a" stroke="#1a1a1a" textLength="8.7" lengthAdjust="spacingAndGlyphs">20</text>
<line x1="311.0" y1="250.0" x2="314.1" y2="250.0" stroke="#2a2a2a" stroke-width="1.0"/>
<text x="308.3" y="252.7" font-size="7.78" text-anchor="end" fill="#1a1a1a" stroke="#1a1a1a" textLength="8.7" lengthAdjust="spacingAndGlyphs">40</text>
<line x1="311.0" y1="234.5" x2="314.1" y2="234.5" stroke="#2a2a2a" stroke-width="1.0"/>
<text x="308.3" y="237.2" font-size="7.78" text-anchor="end" fill="#1a1a1a" stroke="#1a1a1a" textLength="8.7" lengthAdjust="spacingAndGlyphs">60</text>
<line x1="311.0" y1="219.0" x2="314.1" y2="219.0" stroke="#2a2a2a" stroke-width="1.0"/>
<text x="308.3" y="221.7" font-size="7.78" text-anchor="end" fill="#1a1a1a" stroke="#1a1a1a" textLength="8.7" lengthAdjust="spacingAndGlyphs">80</text>
<line x1="311.0" y1="203.5" x2="314.1" y2="203.5" stroke="#2a2a2a" stroke-width="1.0"/>
<text x="308.3" y="206.2" font-size="7.78" text-anchor="end" fill="#1a1a1a" stroke="#1a1a1a" textLength="13.049999999999999" lengthAdjust="spacingAndGlyphs">100</text>
<line x1="311.0" y1="188.0" x2="314.1" y2="188.0" stroke="#2a2a2a" stroke-width="1.0"/>
<text x="308.3" y="190.7" font-size="7.78" text-anchor="end" fill="#1a1a1a" stroke="#1a1a1a" textLength="13.049999999999999" lengthAdjust="spacingAndGlyphs">120</text>
<line x1="313.5" y1="281.0" x2="455.5" y2="281.0" stroke="#2a2a2a" stroke-width="1.2"/>
<line x1="314.0" y1="281.0" x2="314.0" y2="283.5" stroke="#2a2a2a" stroke-width="1.0"/>
<text x="314.2" y="294" font-size="7.78" text-anchor="middle" fill="#1a1a1a" stroke="#1a1a1a" textLength="4.6" lengthAdjust="spacingAndGlyphs">0</text>
<line x1="337.3" y1="281.0" x2="337.3" y2="283.5" stroke="#2a2a2a" stroke-width="1.0"/>
<text x="337.5" y="294" font-size="7.78" text-anchor="middle" fill="#1a1a1a" stroke="#1a1a1a" textLength="9.2" lengthAdjust="spacingAndGlyphs">10</text>
<line x1="360.6" y1="281.0" x2="360.6" y2="283.5" stroke="#2a2a2a" stroke-width="1.0"/>
<text x="360.8" y="294" font-size="7.78" text-anchor="middle" fill="#1a1a1a" stroke="#1a1a1a" textLength="9.2" lengthAdjust="spacingAndGlyphs">20</text>
<line x1="383.9" y1="281.0" x2="383.9" y2="283.5" stroke="#2a2a2a" stroke-width="1.0"/>
<text x="384.09999999999997" y="294" font-size="7.78" text-anchor="middle" fill="#1a1a1a" stroke="#1a1a1a" textLength="9.2" lengthAdjust="spacingAndGlyphs">30</text>
<line x1="407.2" y1="281.0" x2="407.2" y2="283.5" stroke="#2a2a2a" stroke-width="1.0"/>
<text x="407.4" y="294" font-size="7.78" text-anchor="middle" fill="#1a1a1a" stroke="#1a1a1a" textLength="9.2" lengthAdjust="spacingAndGlyphs">40</text>
<line x1="430.5" y1="281.0" x2="430.5" y2="283.5" stroke="#2a2a2a" stroke-width="1.0"/>
<text x="430.7" y="294" font-size="7.78" text-anchor="middle" fill="#1a1a1a" stroke="#1a1a1a" textLength="9.2" lengthAdjust="spacingAndGlyphs">50</text>
<line x1="453.8" y1="281.0" x2="453.8" y2="283.5" stroke="#2a2a2a" stroke-width="1.0"/>
<text x="454.0" y="294" font-size="7.78" text-anchor="middle" fill="#1a1a1a" stroke="#1a1a1a" textLength="9.2" lengthAdjust="spacingAndGlyphs">60</text>
<text x="371.2" y="306.6" font-size="8.85" fill="#1a1a1a" stroke="#1a1a1a" textLength="24.6" lengthAdjust="spacingAndGlyphs">Time (s)</text>
<text x="289.5" y="267.4" font-size="9.41" fill="#1a1a1a" stroke="#1a1a1a" textLength="80" lengthAdjust="spacingAndGlyphs" transform="rotate(-90 289.5 267.4)">% Mean fluorescence intensity</text>
<polyline points="314.00,281.00 327.98,277.67 341.96,273.87 355.94,269.53 369.92,262.63 383.90,254.81 397.88,247.91 411.86,241.24 425.84,236.51 439.82,234.27 446.81,232.79" fill="none" stroke="#134b7e" stroke-width="1.3"/>
<circle cx="314.0" cy="281.0" r="1.7" fill="#134b7e"/>
<line x1="327.98" y1="276.1175" x2="327.98" y2="279.21750000000003" stroke="#134b7e" stroke-width="0.9"/>
<line x1="326.38" y1="276.1175" x2="329.58000000000004" y2="276.1175" stroke="#134b7e" stroke-width="0.9"/>
<line x1="326.38" y1="279.21750000000003" x2="329.58000000000004" y2="279.21750000000003" stroke="#134b7e" stroke-width="0.9"/>
<circle cx="327.98" cy="277.6675" r="1.7" fill="#134b7e"/>
<line x1="341.96" y1="271.545" x2="341.96" y2="276.195" stroke="#134b7e" stroke-width="0.9"/>
<line x1="340.35999999999996" y1="271.545" x2="343.56" y2="271.545" stroke="#134b7e" stroke-width="0.9"/>
<line x1="340.35999999999996" y1="276.195" x2="343.56" y2="276.195" stroke="#134b7e" stroke-width="0.9"/>
<circle cx="341.96" cy="273.87" r="1.7" fill="#134b7e"/>
<line x1="355.94" y1="267.205" x2="355.94" y2="271.85499999999996" stroke="#134b7e" stroke-width="0.9"/>
<line x1="354.34" y1="267.205" x2="357.54" y2="267.205" stroke="#134b7e" stroke-width="0.9"/>
<line x1="354.34" y1="271.85499999999996" x2="357.54" y2="271.85499999999996" stroke="#134b7e" stroke-width="0.9"/>
<circle cx="355.94" cy="269.53" r="1.7" fill="#134b7e"/>
<line x1="369.92" y1="259.53249999999997" x2="369.92" y2="265.7325" stroke="#134b7e" stroke-width="0.9"/>
<line x1="368.32" y1="259.53249999999997" x2="371.52000000000004" y2="259.53249999999997" stroke="#134b7e" stroke-width="0.9"/>
<line x1="368.32" y1="265.7325" x2="371.52000000000004" y2="265.7325" stroke="#134b7e" stroke-width="0.9"/>
<circle cx="369.92" cy="262.6325" r="1.7" fill="#134b7e"/>
<line x1="383.9" y1="251.705" x2="383.9" y2="257.90500000000003" stroke="#134b7e" stroke-width="0.9"/>
<line x1="382.29999999999995" y1="251.705" x2="385.5" y2="251.705" stroke="#134b7e" stroke-width="0.9"/>
<line x1="382.29999999999995" y1="257.90500000000003" x2="385.5" y2="257.90500000000003" stroke="#134b7e" stroke-width="0.9"/>
<circle cx="383.9" cy="254.805" r="1.7" fill="#134b7e"/>
<line x1="397.88" y1="244.8075" x2="397.88" y2="251.0075" stroke="#134b7e" stroke-width="0.9"/>
<line x1="396.28" y1="244.8075" x2="399.48" y2="244.8075" stroke="#134b7e" stroke-width="0.9"/>
<line x1="396.28" y1="251.0075" x2="399.48" y2="251.0075" stroke="#134b7e" stroke-width="0.9"/>
<circle cx="397.88" cy="247.9075" r="1.7" fill="#134b7e"/>
<line x1="411.86" y1="238.1425" x2="411.86" y2="244.3425" stroke="#134b7e" stroke-width="0.9"/>
<line x1="410.26" y1="238.1425" x2="413.46000000000004" y2="238.1425" stroke="#134b7e" stroke-width="0.9"/>
<line x1="410.26" y1="244.3425" x2="413.46000000000004" y2="244.3425" stroke="#134b7e" stroke-width="0.9"/>
<circle cx="411.86" cy="241.2425" r="1.7" fill="#134b7e"/>
<line x1="425.84000000000003" y1="233.415" x2="425.84000000000003" y2="239.61499999999998" stroke="#134b7e" stroke-width="0.9"/>
<line x1="424.24" y1="233.415" x2="427.44000000000005" y2="233.415" stroke="#134b7e" stroke-width="0.9"/>
<line x1="424.24" y1="239.61499999999998" x2="427.44000000000005" y2="239.61499999999998" stroke="#134b7e" stroke-width="0.9"/>
<circle cx="425.84000000000003" cy="236.515" r="1.7" fill="#134b7e"/>
<line x1="439.82" y1="231.9425" x2="439.82" y2="236.59249999999997" stroke="#134b7e" stroke-width="0.9"/>
<line x1="438.21999999999997" y1="231.9425" x2="441.42" y2="231.9425" stroke="#134b7e" stroke-width="0.9"/>
<line x1="438.21999999999997" y1="236.59249999999997" x2="441.42" y2="236.59249999999997" stroke="#134b7e" stroke-width="0.9"/>
<circle cx="439.82" cy="234.26749999999998" r="1.7" fill="#134b7e"/>
<line x1="446.81" y1="230.47" x2="446.81" y2="235.11999999999998" stroke="#134b7e" stroke-width="0.9"/>
<line x1="445.21" y1="230.47" x2="448.41" y2="230.47" stroke="#134b7e" stroke-width="0.9"/>
<line x1="445.21" y1="235.11999999999998" x2="448.41" y2="235.11999999999998" stroke="#134b7e" stroke-width="0.9"/>
<circle cx="446.81" cy="232.795" r="1.7" fill="#134b7e"/>
<polyline points="314.00,281.00 327.98,265.96 341.96,256.59 355.94,245.97 369.92,235.51 383.90,226.21 397.88,218.61 411.86,213.26 425.84,201.02 439.82,205.51 446.81,203.34" fill="none" stroke="#c4002c" stroke-width="1.3"/>
<circle cx="314.0" cy="281.0" r="1.7" fill="#c4002c"/>
<line x1="327.98" y1="262.09" x2="327.98" y2="269.84" stroke="#c4002c" stroke-width="0.9"/>
<line x1="326.38" y1="262.09" x2="329.58000000000004" y2="262.09" stroke="#c4002c" stroke-width="0.9"/>
<line x1="326.38" y1="269.84" x2="329.58000000000004" y2="269.84" stroke="#c4002c" stroke-width="0.9"/>
<circle cx="327.98" cy="265.965" r="1.7" fill="#c4002c"/>
<line x1="341.96" y1="252.71249999999998" x2="341.96" y2="260.4625" stroke="#c4002c" stroke-width="0.9"/>
<line x1="340.35999999999996" y1="252.71249999999998" x2="343.56" y2="252.71249999999998" stroke="#c4002c" stroke-width="0.9"/>
<line x1="340.35999999999996" y1="260.4625" x2="343.56" y2="260.4625" stroke="#c4002c" stroke-width="0.9"/>
<circle cx="341.96" cy="256.5875" r="1.7" fill="#c4002c"/>
<line x1="355.94" y1="242.095" x2="355.94" y2="249.845" stroke="#c4002c" stroke-width="0.9"/>
<line x1="354.34" y1="242.095" x2="357.54" y2="242.095" stroke="#c4002c" stroke-width="0.9"/>
<line x1="354.34" y1="249.845" x2="357.54" y2="249.845" stroke="#c4002c" stroke-width="0.9"/>
<circle cx="355.94" cy="245.97" r="1.7" fill="#c4002c"/>
<line x1="369.92" y1="231.6325" x2="369.92" y2="239.3825" stroke="#c4002c" stroke-width="0.9"/>
<line x1="368.32" y1="231.6325" x2="371.52000000000004" y2="231.6325" stroke="#c4002c" stroke-width="0.9"/>
<line x1="368.32" y1="239.3825" x2="371.52000000000004" y2="239.3825" stroke="#c4002c" stroke-width="0.9"/>
<circle cx="369.92" cy="235.5075" r="1.7" fill="#c4002c"/>
<line x1="383.9" y1="223.1075" x2="383.9" y2="229.30749999999998" stroke="#c4002c" stroke-width="0.9"/>
<line x1="382.29999999999995" y1="223.1075" x2="385.5" y2="223.1075" stroke="#c4002c" stroke-width="0.9"/>
<line x1="382.29999999999995" y1="229.30749999999998" x2="385.5" y2="229.30749999999998" stroke="#c4002c" stroke-width="0.9"/>
<circle cx="383.9" cy="226.20749999999998" r="1.7" fill="#c4002c"/>
<line x1="397.88" y1="215.51250000000002" x2="397.88" y2="221.7125" stroke="#c4002c" stroke-width="0.9"/>
<line x1="396.28" y1="215.51250000000002" x2="399.48" y2="215.51250000000002" stroke="#c4002c" stroke-width="0.9"/>
<line x1="396.28" y1="221.7125" x2="399.48" y2="221.7125" stroke="#c4002c" stroke-width="0.9"/>
<circle cx="397.88" cy="218.6125" r="1.7" fill="#c4002c"/>
<line x1="411.86" y1="210.94" x2="411.86" y2="215.58999999999997" stroke="#c4002c" stroke-width="0.9"/>
<line x1="410.26" y1="210.94" x2="413.46000000000004" y2="210.94" stroke="#c4002c" stroke-width="0.9"/>
<line x1="410.26" y1="215.58999999999997" x2="413.46000000000004" y2="215.58999999999997" stroke="#c4002c" stroke-width="0.9"/>
<circle cx="411.86" cy="213.265" r="1.7" fill="#c4002c"/>
<line x1="425.84000000000003" y1="192.49499999999998" x2="425.84000000000003" y2="209.545" stroke="#c4002c" stroke-width="0.9"/>
<line x1="424.24" y1="192.49499999999998" x2="427.44000000000005" y2="192.49499999999998" stroke="#c4002c" stroke-width="0.9"/>
<line x1="424.24" y1="209.545" x2="427.44000000000005" y2="209.545" stroke="#c4002c" stroke-width="0.9"/>
<circle cx="425.84000000000003" cy="201.01999999999998" r="1.7" fill="#c4002c"/>
<line x1="439.82" y1="204.58499999999998" x2="439.82" y2="206.445" stroke="#c4002c" stroke-width="0.9"/>
<line x1="438.21999999999997" y1="204.58499999999998" x2="441.42" y2="204.58499999999998" stroke="#c4002c" stroke-width="0.9"/>
<line x1="438.21999999999997" y1="206.445" x2="441.42" y2="206.445" stroke="#c4002c" stroke-width="0.9"/>
<circle cx="439.82" cy="205.515" r="1.7" fill="#c4002c"/>
<line x1="446.81" y1="202.415" x2="446.81" y2="204.275" stroke="#c4002c" stroke-width="0.9"/>
<line x1="445.21" y1="202.415" x2="448.41" y2="202.415" stroke="#c4002c" stroke-width="0.9"/>
<line x1="445.21" y1="204.275" x2="448.41" y2="204.275" stroke="#c4002c" stroke-width="0.9"/>
<circle cx="446.81" cy="203.345" r="1.7" fill="#c4002c"/>
<circle cx="341.96" cy="248.31" r="0.95" fill="#333"/>
<circle cx="355.94" cy="237.69" r="0.95" fill="#333"/>
<circle cx="369.92" cy="227.23" r="0.95" fill="#333"/>
<circle cx="383.90" cy="218.71" r="0.95" fill="#333"/>
<circle cx="397.88" cy="211.11" r="0.95" fill="#333"/>
<circle cx="411.86" cy="206.54" r="0.95" fill="#333"/>
<circle cx="425.84" cy="188.09" r="0.95" fill="#333"/>
<circle cx="439.82" cy="200.18" r="0.95" fill="#333"/>
<circle cx="446.81" cy="198.01" r="0.95" fill="#333"/>
<line x1="320.3" y1="189.4" x2="335.1" y2="189.4" stroke="#c4002c" stroke-width="1.2"/>
<circle cx="327.7" cy="189.4" r="1.6" fill="#c4002c"/>
<text x="342" y="191.6" font-size="8.85" fill="#1a1a1a" stroke="#1a1a1a" textLength="10.7" lengthAdjust="spacingAndGlyphs">WT</text>
<line x1="320.3" y1="203.5" x2="335.1" y2="203.5" stroke="#134b7e" stroke-width="1.2"/>
<circle cx="327.7" cy="203.5" r="1.6" fill="#134b7e"/>
<text x="341.8" y="206" font-size="8.85" fill="#1a1a1a"><tspan textLength="25.6" lengthAdjust="spacingAndGlyphs">PDK2/4</tspan><tspan font-size="4.6" dy="-3.3" fill="#444" textLength="6" lengthAdjust="spacingAndGlyphs">–/–</tspan></text>
<rect x="0.5" y="0.5" width="519" height="315" fill="none" stroke="#555" stroke-width="1"/>
</svg>
</body></html>
